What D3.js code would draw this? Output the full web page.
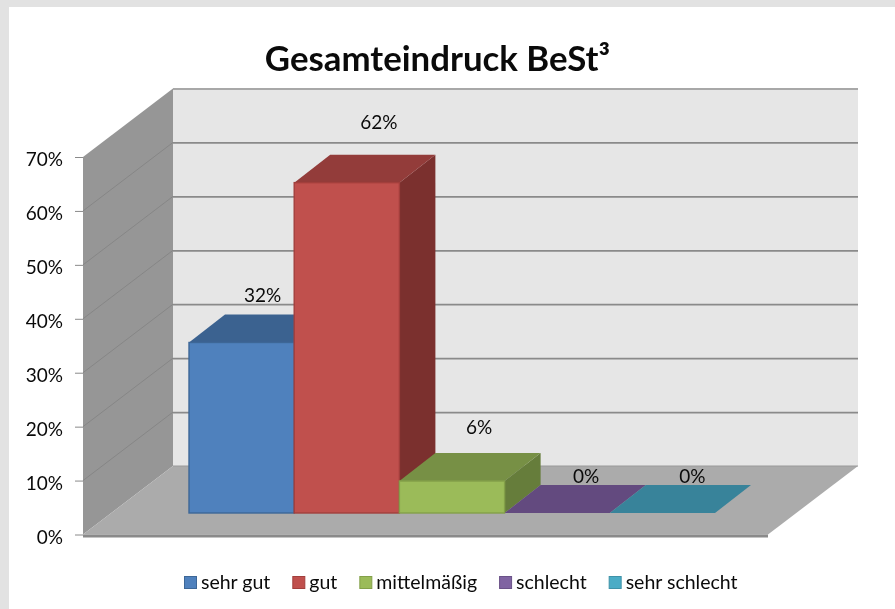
<!DOCTYPE html>
<html><head><meta charset="utf-8">
<script src="https://cdn.jsdelivr.net/npm/d3@7"></script>
<style>html,body{margin:0;padding:0;background:#fff}svg{display:block;filter:blur(0.4px)}text{font-family:Lato,"Open Sans",sans-serif;fill:#0a0a0a}</style>
</head><body><svg id="c" width="895" height="609"></svg>
<script>
const categories = ["sehr gut","gut","mittelmäßig","schlecht","sehr schlecht"];
const values = [32,62,6,0,0];
const barLabels = ["32%","62%","6%","0%","0%"];
const yTicks = [0,10,20,30,40,50,60,70];
const frontColors = ["#4f81bd","#c0504d","#9bbb59","#8064a2","#4bacc6"];
const topColors = ["#3b6290","#933c3a","#779045","#634a7f","#38839a"];
const sideColors = ["#2f4f76","#7b302e","#667d3b","#523d69","#2e6d80"];
const edgeColors = ["#3d6797","#a23f3c","#83a049","#6a5288","#3f92a8"];
const title = "Gesamteindruck BeSt³";

const svg = d3.select("#c");
svg.append("rect").attr("width",895).attr("height",609).attr("fill","#e2e2e2");
svg.append("rect").attr("x",9).attr("y",7).attr("width",890).attr("height",606).attr("fill","#fff");

// plot box
const W = {x0:83,x1:768,dx:90,dy:-68.5};
const y = d3.scaleLinear().domain([0,70]).range([534.5,157]);
const barY = d3.scaleLinear().domain([0,70]).range([513,140]);
const x = d3.scaleBand().domain(categories).range([189,715]).paddingInner(0);
const bd = {dx:36,dy:-28};
const poly = pts => pts.map(p=>p.join(",")).join(" ");

// back wall
svg.append("polygon").attr("fill","#e6e6e6")
  .attr("points",poly([[W.x0+W.dx,y(70)+W.dy],[W.x1+W.dx,y(70)+W.dy],[W.x1+W.dx,y(0)+W.dy],[W.x0+W.dx,y(0)+W.dy]]));
// side wall
svg.append("polygon").attr("fill","#969696")
  .attr("points",poly([[W.x0,y(0)],[W.x0,y(70)],[W.x0+W.dx,y(70)+W.dy],[W.x0+W.dx,y(0)+W.dy]]));
// gridlines
const gridTicks = yTicks.filter(d=>d>0);
svg.append("g").selectAll("line").data(gridTicks).join("line")
  .attr("x1",W.x0+W.dx).attr("x2",W.x1+W.dx)
  .attr("y1",d=>y(d)+W.dy+0.5).attr("y2",d=>y(d)+W.dy+0.5)
  .attr("stroke",d=>d===70?"#a8a8a8":"#8a8a8a").attr("stroke-width",1.8);
svg.append("g").selectAll("line").data(gridTicks.filter(d=>d<70)).join("line")
  .attr("x1",W.x0).attr("x2",W.x0+W.dx)
  .attr("y1",d=>y(d)).attr("y2",d=>y(d)+W.dy)
  .attr("stroke","#868686").attr("stroke-width",1);
// floor
svg.append("polygon").attr("fill","#ababab")
  .attr("points",poly([[W.x0,y(0)],[W.x1,y(0)],[W.x1+W.dx,y(0)+W.dy],[W.x0+W.dx,y(0)+W.dy]]));
svg.append("line").attr("x1",W.x0+W.dx).attr("x2",W.x1+W.dx).attr("y1",y(0)+W.dy).attr("y2",y(0)+W.dy)
  .attr("stroke","#9a9a9a").attr("stroke-width",1);
svg.append("polygon").attr("fill","#8a8a8a")
  .attr("points",poly([[W.x0,y(0)],[W.x1,y(0)],[W.x1,y(0)+3],[W.x0,y(0)+3]]));

// bars, painted left to right
const bars = svg.append("g").selectAll("g").data(categories).join("g");
bars.each(function(c,i){
  const g=d3.select(this), l=x(c), r=l+x.bandwidth(), t=barY(values[i]), b=barY(0);
  g.append("polygon").attr("fill",sideColors[i])
    .attr("points",poly([[r,t],[r+bd.dx,t+bd.dy],[r+bd.dx,b+bd.dy],[r,b]]));
  g.append("polygon").attr("fill",topColors[i])
    .attr("points",poly([[l,t],[r,t],[r+bd.dx,t+bd.dy],[l+bd.dx,t+bd.dy]]));
  if(values[i]>0) g.append("rect").attr("x",l).attr("y",t).attr("width",x.bandwidth()).attr("height",b-t)
    .attr("fill",frontColors[i]).attr("stroke",edgeColors[i]).attr("stroke-width",1.4);
});

// value labels
const labelNudge = [{x:21,y:-47},{x:32,y:-60},{x:27,y:-54},{x:29,y:-37},{x:30,y:-37}];
svg.append("g").selectAll("text").data(categories).join("text")
  .attr("x",(c,i)=>x(c)+x.bandwidth()/2+labelNudge[i].x)
  .attr("y",(c,i)=>barY(values[i])+labelNudge[i].y+6.5)
  .attr("text-anchor","middle").attr("font-size",19).text((c,i)=>barLabels[i]);

// y axis
const axis = svg.append("g").attr("transform",`translate(${W.x0},0)`)
  .call(d3.axisLeft(y).tickValues(yTicks).tickSize(8).tickPadding(12).tickFormat(d=>d+"%"));
axis.select(".domain").remove();
axis.selectAll("line").attr("stroke","#8a8a8a");
axis.selectAll("text").attr("font-size",19).attr("dy","0.46em")
  .style("font-family",'Lato,"Open Sans",sans-serif').attr("fill","#0a0a0a");

// title
svg.append("text").attr("x",437.5).attr("y",70.5).attr("text-anchor","middle")
  .attr("font-size",34.8).attr("font-weight",700).text(title);

// legend
let lx = 184;
const legend = svg.append("g");
categories.forEach((c,i)=>{
  legend.append("rect").attr("x",lx+.5).attr("y",576.5).attr("width",12).attr("height",12)
    .attr("fill",frontColors[i]).attr("stroke",edgeColors[i]);
  const t = legend.append("text").attr("x",lx+17).attr("y",588.5).attr("font-size",19.5).text(c);
  lx += 17 + t.node().getComputedTextLength() + 22;
});
</script></body></html>
